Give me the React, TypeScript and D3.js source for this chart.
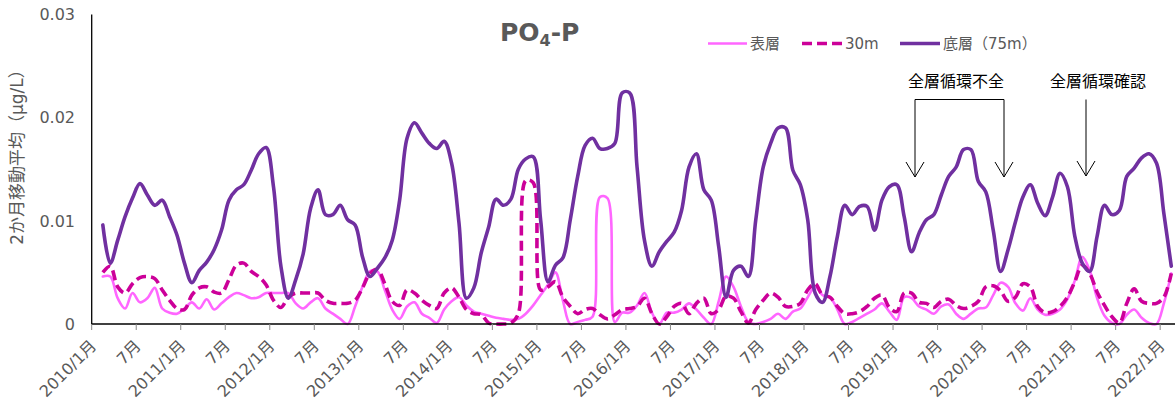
import React from 'react';
import * as d3 from 'd3';

// categories: 2010/1 .. 2022/2 (146 months); data start at 2010/2 (2-month moving average)
const months: string[] = d3.range(146).map((i) => `${2010 + Math.floor(i / 12)}/${(i % 12) + 1}`);
const dataStartIndex = 1;

const tickLabels = [
  '2010/1月', '7月', '2011/1月', '7月', '2012/1月', '7月', '2013/1月', '7月', '2014/1月', '7月',
  '2015/1月', '7月', '2016/1月', '7月', '2017/1月', '7月', '2018/1月', '7月', '2019/1月', '7月',
  '2020/1月', '7月', '2021/1月', '7月', '2022/1月',
];
const yTicks = [0, 0.01, 0.02, 0.03];
const yTickLabels = ['0', '0.01', '0.02', '0.03'];

const seriesNames = ['表層', '30m', '底層（75m）'];

// 表層
const surface = [
  0.0046, 0.0046, 0.0025, 0.0015, 0.0030, 0.0021, 0.0025, 0.0035, 0.0015, 0.0011,
  0.0010, 0.0015, 0.0021, 0.0015, 0.0024, 0.0014, 0.0020, 0.0026, 0.0030, 0.0028,
  0.0025, 0.0026, 0.0030, 0.0030, 0.0030, 0.0030, 0.0020, 0.0015, 0.0021, 0.0025,
  0.0015, 0.0010, 0.0005, 0.0000, 0.0017, 0.0036, 0.0051, 0.0051, 0.0033, 0.0014,
  0.0005, 0.0017, 0.0021, 0.0010, 0.0006, 0.0001, 0.0014, 0.0022, 0.0026, 0.0018,
  0.0012, 0.0010, 0.0008, 0.0006, 0.0005, 0.0004, 0.0005, 0.0010, 0.0018, 0.0028,
  0.0038, 0.0050, 0.0023, 0.0000, 0.0002, 0.0004, 0.0007, 0.0123, 0.0122, 0.0002,
  0.0011, 0.0011, 0.0018, 0.0030, 0.0011, 0.0000, 0.0011, 0.0011, 0.0014, 0.0020,
  0.0014, 0.0006, 0.0000, 0.0022, 0.0046, 0.0036, 0.0017, 0.0002, 0.0000, 0.0002,
  0.0005, 0.0010, 0.0005, 0.0012, 0.0015, 0.0026, 0.0036, 0.0028, 0.0026, 0.0014,
  0.0000, 0.0002, 0.0006, 0.0010, 0.0014, 0.0020, 0.0012, 0.0004, 0.0026, 0.0025,
  0.0017, 0.0014, 0.0010, 0.0017, 0.0019, 0.0010, 0.0005, 0.0010, 0.0015, 0.0016,
  0.0028, 0.0040, 0.0036, 0.0020, 0.0013, 0.0025, 0.0014, 0.0009, 0.0010, 0.0014,
  0.0024, 0.0042, 0.0065, 0.0052, 0.0025, 0.0008, 0.0001, 0.0000, 0.0009, 0.0014,
  0.0006, 0.0001, 0.0000, 0.0020, 0.0049,
];

// 30m
const m30 = [
  0.0050, 0.0056, 0.0036, 0.0030, 0.0039, 0.0045, 0.0046, 0.0044, 0.0033, 0.0023,
  0.0015, 0.0014, 0.0028, 0.0035, 0.0036, 0.0031, 0.0030, 0.0043, 0.0057, 0.0059,
  0.0051, 0.0046, 0.0038, 0.0023, 0.0016, 0.0026, 0.0030, 0.0030, 0.0030, 0.0030,
  0.0023, 0.0020, 0.0020, 0.0020, 0.0023, 0.0035, 0.0049, 0.0053, 0.0039, 0.0022,
  0.0018, 0.0033, 0.0030, 0.0023, 0.0018, 0.0015, 0.0030, 0.0035, 0.0026, 0.0014,
  0.0010, 0.0009, 0.0001, 0.0000, 0.0000, 0.0001, 0.0010, 0.0139, 0.0137, 0.0033,
  0.0036, 0.0041, 0.0026, 0.0017, 0.0010, 0.0014, 0.0015, 0.0009, 0.0005, 0.0009,
  0.0014, 0.0015, 0.0017, 0.0025, 0.0010, 0.0000, 0.0007, 0.0017, 0.0020, 0.0010,
  0.0020, 0.0025, 0.0010, 0.0014, 0.0027, 0.0025, 0.0012, 0.0001, 0.0014, 0.0023,
  0.0030, 0.0026, 0.0017, 0.0017, 0.0020, 0.0033, 0.0039, 0.0028, 0.0026, 0.0017,
  0.0010, 0.0010, 0.0012, 0.0017, 0.0025, 0.0028, 0.0016, 0.0012, 0.0030, 0.0030,
  0.0021, 0.0020, 0.0016, 0.0022, 0.0024, 0.0018, 0.0015, 0.0017, 0.0022, 0.0036,
  0.0037, 0.0032, 0.0022, 0.0026, 0.0039, 0.0036, 0.0017, 0.0011, 0.0012, 0.0017,
  0.0026, 0.0041, 0.0057, 0.0049, 0.0031, 0.0018, 0.0007, 0.0001, 0.0020, 0.0034,
  0.0022, 0.0020, 0.0020, 0.0026, 0.0049,
];

// 底層（75m）
const bottom = [
  0.0096, 0.0059, 0.0081, 0.0104, 0.0122, 0.0136, 0.0125, 0.0115, 0.0120, 0.0104,
  0.0086, 0.0059, 0.0040, 0.0052, 0.0060, 0.0072, 0.0091, 0.0120, 0.0130, 0.0135,
  0.0149, 0.0165, 0.0171, 0.0133, 0.0056, 0.0025, 0.0043, 0.0068, 0.0112, 0.0130,
  0.0106, 0.0106, 0.0115, 0.0101, 0.0096, 0.0065, 0.0046, 0.0054, 0.0064, 0.0081,
  0.0120, 0.0180, 0.0195, 0.0185, 0.0175, 0.0170, 0.0177, 0.0156, 0.0098, 0.0025,
  0.0035, 0.0069, 0.0094, 0.0121, 0.0115, 0.0121, 0.0150, 0.0160, 0.0162, 0.0101,
  0.0041, 0.0057, 0.0064, 0.0101, 0.0143, 0.0173, 0.0180, 0.0170, 0.0170, 0.0175,
  0.0224, 0.0224, 0.0152, 0.0081, 0.0056, 0.0070, 0.0080, 0.0089, 0.0110, 0.0152,
  0.0165, 0.0130, 0.0120, 0.0075, 0.0026, 0.0052, 0.0056, 0.0046, 0.0101, 0.0152,
  0.0175, 0.0190, 0.0190, 0.0149, 0.0135, 0.0101, 0.0030, 0.0021, 0.0046, 0.0085,
  0.0115, 0.0106, 0.0114, 0.0114, 0.0091, 0.0120, 0.0133, 0.0135, 0.0104, 0.0070,
  0.0088, 0.0101, 0.0106, 0.0125, 0.0143, 0.0152, 0.0169, 0.0169, 0.0138, 0.0128,
  0.0091, 0.0051, 0.0072, 0.0099, 0.0123, 0.0135, 0.0117, 0.0105, 0.0123, 0.0146,
  0.0133, 0.0085, 0.0059, 0.0051, 0.0085, 0.0115, 0.0106, 0.0110, 0.0143, 0.0151,
  0.0161, 0.0165, 0.0156, 0.0107, 0.0056,
];

const W = 1175;
const H = 407;
const plotLeft = 91.7;
const plotRight = 1175;
const plotTop = 14.4;
const plotBottom = 324;

const GRAY = '#595959';
const FONT = '"DejaVu Sans", "Noto Sans CJK JP", sans-serif';

export default function App() {
  const x = d3.scaleBand<string>().domain(months).range([plotLeft, plotRight]).padding(0);
  const bw = x.bandwidth();
  const y = d3.scaleLinear().domain([0, 0.03]).range([plotBottom, plotTop]);

  const cx = (i: number) => (x(months[i]) as number) + bw / 2;
  const line = d3
    .line<number>()
    .x((_, i) => cx(i + dataStartIndex))
    .y((d) => y(d))
    .curve(d3.curveCatmullRom.alpha(0.5));

  const series = [
    { name: seriesNames[0], data: surface, color: '#FF66FF', width: 2.6, dash: undefined as string | undefined },
    { name: seriesNames[1], data: m30, color: '#CC0099', width: 3.6, dash: '10,5' },
    { name: seriesNames[2], data: bottom, color: '#7030A0', width: 3.6, dash: undefined },
  ];

  const legendItems = [
    { x0: 708, x1: 747, tx: 750 },
    { x0: 802, x1: 842, tx: 845 },
    { x0: 900, x1: 940, tx: 943 },
  ];

  const arrow = (ax: number, top: number, tip: number) => (
    <g stroke="#000" strokeWidth={1} fill="none">
      <line x1={ax} y1={top} x2={ax} y2={tip} />
      <polyline points={`${ax - 9},${tip - 15} ${ax},${tip} ${ax + 9},${tip - 15}`} />
    </g>
  );

  return (
    <svg
      width={W}
      height={H}
      style={{ position: 'absolute', left: 0, top: 0, background: '#fff' }}
      fontFamily={FONT}
    >
      <rect x={0} y={0} width={W} height={H} fill="#fff" />

      {/* title */}
      <text x={500} y={41} fill={GRAY} fontWeight="bold" fontSize={25}>
        PO
        <tspan fontSize={16} dy={5}>4</tspan>
        <tspan dy={-5}>-P</tspan>
      </text>

      {/* y axis label */}
      <text
        transform={`translate(23,153) rotate(-90)`}
        textAnchor="middle"
        fill={GRAY}
        fontSize={17}
      >
        2か月移動平均（μg/L）
      </text>

      {/* y tick labels */}
      {yTicks.map((t, i) => (
        <text key={i} x={75} y={y(t)} dy="0.36em" textAnchor="end" fill={GRAY} fontSize={16}>
          {yTickLabels[i]}
        </text>
      ))}

      {/* series */}
      {series.map((s) => (
        <path
          key={s.name}
          d={line(s.data) || ''}
          fill="none"
          stroke={s.color}
          strokeWidth={s.width}
          strokeDasharray={s.dash}
          strokeLinejoin="round"
          strokeLinecap={s.dash ? 'butt' : 'round'}
        />
      ))}

      {/* axes */}
      <line x1={plotLeft} y1={plotTop} x2={plotLeft} y2={plotBottom} stroke="#000" strokeWidth={1.3} />
      <line x1={plotLeft} y1={plotBottom} x2={plotRight} y2={plotBottom} stroke="#000" strokeWidth={1.3} />
      {tickLabels.map((lab, k) => {
        const tx = x(months[k * 6]) as number;
        return (
          <g key={k}>
            <line x1={tx} y1={plotBottom} x2={tx} y2={plotBottom + 6} stroke="#888" strokeWidth={1} />
            <text
              transform={`translate(${tx + bw / 2 + 2},${plotBottom + 23}) rotate(-45)`}
              textAnchor="end"
              fill={GRAY}
              fontSize={16}
            >
              {lab}
            </text>
          </g>
        );
      })}

      {/* legend */}
      {series.map((s, i) => (
        <g key={s.name}>
          <line
            x1={legendItems[i].x0}
            x2={legendItems[i].x1}
            y1={43.5}
            y2={43.5}
            stroke={s.color}
            strokeWidth={s.width}
            strokeDasharray={s.dash}
          />
          <text x={legendItems[i].tx} y={43.5} dy="0.36em" fill={GRAY} fontSize={15}>
            {s.name}
          </text>
        </g>
      ))}

      {/* annotations */}
      <text x={956} y={81.7} dy="0.36em" textAnchor="middle" fill="#000" fontSize={16}>
        全層循環不全
      </text>
      <text x={1098} y={81.7} dy="0.36em" textAnchor="middle" fill="#000" fontSize={16}>
        全層循環確認
      </text>
      <line x1={915} y1={99.5} x2={1004} y2={99.5} stroke="#000" strokeWidth={1} />
      {arrow(915, 99.5, 177)}
      {arrow(1004, 99.5, 177)}
      {arrow(1086, 99.5, 176)}
    </svg>
  );
}
